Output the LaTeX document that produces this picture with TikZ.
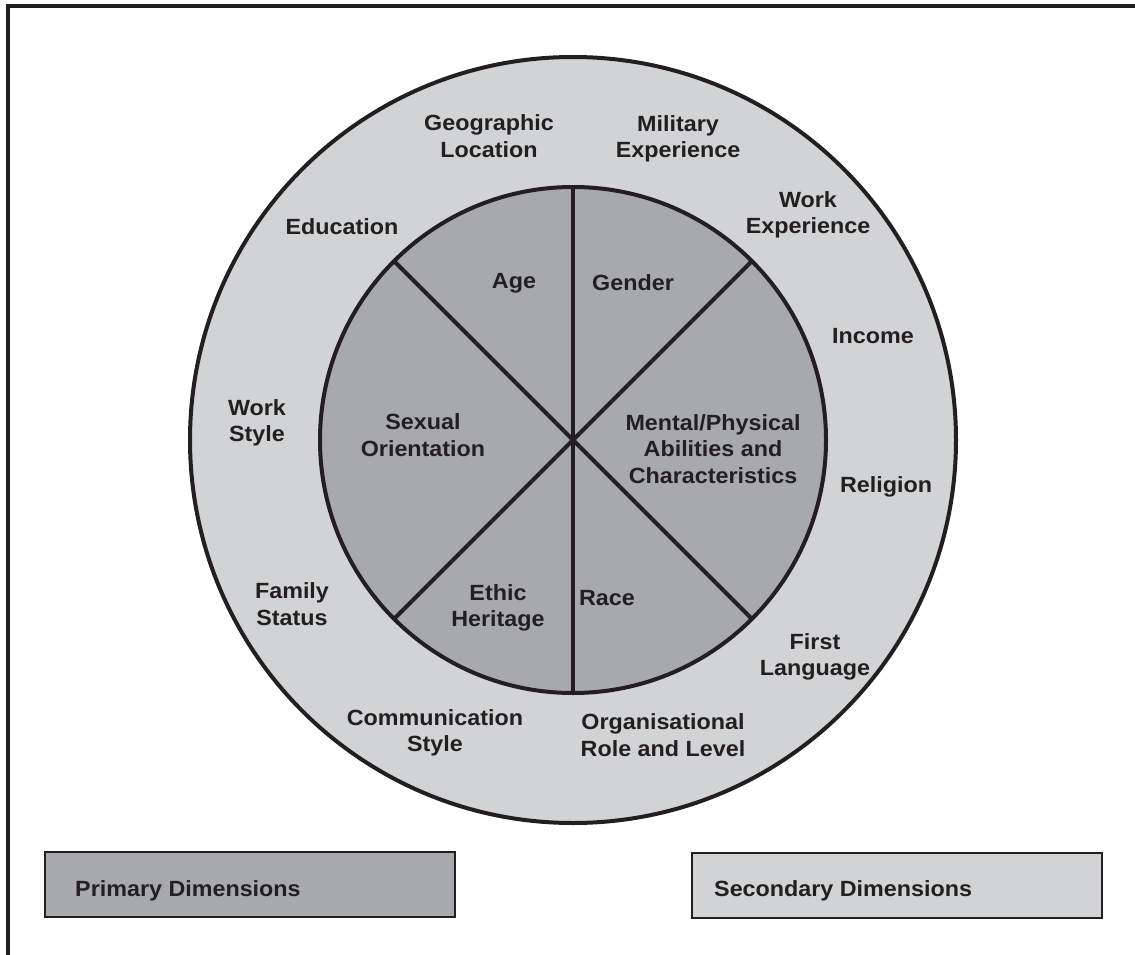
\documentclass[tikz,border=0pt]{standalone}
\usepackage{fontspec}
\setmainfont{Liberation Sans}[FakeStretch=1.06]
\usetikzlibrary{shapes}
\definecolor{inkblack}{HTML}{231F20}
\definecolor{primgray}{HTML}{A7A9AC}
\definecolor{secgray}{HTML}{D1D3D4}
\tikzstyle{wheel}=[circle,draw=inkblack,line width=4pt,inner sep=0pt,outer sep=0pt]
\tikzstyle{spoke}=[draw=inkblack,line width=4pt]
\tikzstyle{dim}=[font=\fontsize{22}{26.5}\selectfont\bfseries,text=inkblack,align=center,inner sep=0pt]
\tikzstyle{keybox}=[draw=inkblack,line width=2pt,minimum width=410pt,minimum height=65pt,inner sep=0pt]

\begin{document}
\begin{tikzpicture}[x=1pt,y=-1pt]
\useasboundingbox (0,0) rectangle (1135,955);
\draw[spoke] (1135,6) -- (8,6) -- (8,955);

\node[wheel,fill=secgray,minimum size=766pt] (outer) at (573,440) {};
\node[wheel,fill=primgray,minimum size=506pt] (inner) at (573,440) {};
\draw[spoke] (inner.north)--(inner.south);
\draw[spoke] (inner.45)--(inner.225);
\draw[spoke] (inner.135)--(inner.315);

% outer ring
\node[dim] (geo) at (489,136) {Geographic\\Location};
\node[dim] (mil) at (678,139) {Military\\Experience};
\node[dim] (workexp) at (808,215) {Work\\Experience};
\node[dim] (edu) at (342,227) {Education};
\node[dim] (income) at (873,336) {Income};
\node[dim] (workstyle) at (257,423) {Work\\Style};
\node[dim] (religion) at (886,487) {Religion};
\node[dim] (family) at (292,604) {Family\\Status};
\node[dim] (lang) at (815,657) {First\\Language};
\node[dim] (comm) at (435,733) {Communication\\Style};
\node[dim] (role) at (663,735) {Organisational\\Role and Level};

% inner wheel
\node[dim] (age) at (514,283) {Age};
\node[dim] (gender) at (633,283) {Gender};
\node[dim] (sexual) at (423,435) {Sexual\\Orientation};
\node[dim] (ability) at (713,449) {Mental/Physical\\Abilities and\\Characteristics};
\node[dim] (ethnic) at (498,608) {Ethic\\Heritage};
\node[dim] (race) at (607,598) {Race};

% key
\node[keybox,fill=primgray] (primary) at (250,884) {};
\node[dim,anchor=base west] (primarytxt) at (75,896) {Primary Dimensions};
\node[keybox,fill=secgray] (secondary) at (896.5,885) {};
\node[dim,anchor=base west] (secondarytxt) at (714,896) {Secondary Dimensions};
\end{tikzpicture}
\end{document}
